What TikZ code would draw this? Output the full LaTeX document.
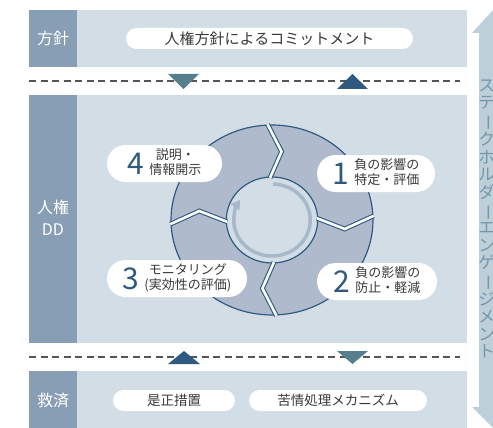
\documentclass[tikz,border=0pt]{standalone}
\usepackage{fontspec}
\setmainfont{Noto Sans CJK JP}
\usepackage{graphicx}
\usetikzlibrary{arrows.meta}
\definecolor{Mist}{HTML}{D3DDE6}
\definecolor{Slate}{HTML}{889EB4}
\definecolor{RingFill}{HTML}{AFBBCD}
\definecolor{Marine}{HTML}{2E5A80}
\definecolor{Teal}{HTML}{557F8D}
\definecolor{Ink}{HTML}{3A3A3A}
\definecolor{Swirl}{HTML}{A8B7C9}
\definecolor{Glacier}{HTML}{BDD0DA}
\definecolor{Steel}{HTML}{7496AB}
\definecolor{DashGray}{HTML}{555555}
\tikzset{
    % panels and side column
    panel/.style={fill=Mist},
    sidebar/.style={fill=Slate},
    sidelabel/.style={
        text=white,
        align=center,
        font=\fontsize{16}{22}\selectfont
    },
    % white pills
    pillbox/.style={
        rectangle,
        fill=white,
        rounded corners=10.5pt,
        minimum height=21pt,
        inner sep=0pt,
        text=Ink,
        font=\fontsize{13.5}{16}\selectfont
    },
    ringpill/.style={
        rectangle,
        fill=white,
        rounded corners=18.5pt,
        minimum height=37pt,
        inner sep=0pt,
        text=Ink,
        font=\fontsize{13}{15}\selectfont
    },
    sepline/.style={
        draw=DashGray,
        line width=1.3pt,
        dash pattern=on 7pt off 4.5pt
    },
    ringline/.style={
        draw=Marine,
        line width=1.2pt
    },
    ringgap/.style={
        draw=Marine,
        line width=1.1pt,
        double=white,
        double distance=2.6pt,
        line join=miter
    },
    swirl/.style={
        draw=Swirl,
        line width=3.5pt,
        -{Triangle[length=9pt,width=10pt]}
    },
    engage/.style={fill=Glacier},
    engagetext/.style={
        text=Steel,
        align=center,
        font=\fontsize{16.5}{17.6}\selectfont
    }
}
\newcommand{\stepnum}[2]{$\vcenter{\hbox{\fontsize{30}{30}\selectfont\color{Marine}#1}}$\hspace{5pt}$\vcenter{\hbox{\begin{tabular}{@{}c@{}}#2\end{tabular}}}$}
\newcommand{\chouon}{\rotatebox[origin=c]{-90}{ー}}
\begin{document}
\begin{tikzpicture}[x=1pt, y=-1pt]
    \useasboundingbox (0,0) rectangle (493,428);
    % panels
    \fill[panel] (29,10) rectangle (467,67);
    \fill[panel] (29,95) rectangle (467,343);
    \fill[panel] (29,371) rectangle (467,428);
    \fill[sidebar] (29,10) rectangle (77,67);
    \fill[sidebar] (29,95) rectangle (77,343);
    \fill[sidebar] (29,371) rectangle (77,428);
    \node[sidelabel] (hoshin) at (53,38.5) {方針};
    \node[sidelabel] (dd) at (53,218) {人権\\DD};
    \node[sidelabel] (kyusai) at (53,400) {救済};
    % separators
    \draw[sepline] (29,81) -- (460,81);
    \draw[sepline] (29,357) -- (460,357);
    \fill[Teal] (168,74) -- (199,74) -- (183.5,89) -- cycle;
    \fill[Marine] (337,89) -- (368,89) -- (352.5,74) -- cycle;
    \fill[Marine] (168,364) -- (200,364) -- (184,351) -- cycle;
    \fill[Teal] (337,351) -- (368,351) -- (352.5,364) -- cycle;
    % pills
    \node[pillbox, minimum width=287pt, font=\fontsize{15}{18}\selectfont] (commit) at (269.5,38.5) {人権方針によるコミットメント};
    \node[pillbox, minimum width=122pt] (zesei) at (174,400.5) {是正措置};
    \node[pillbox, minimum width=178pt] (kujo) at (338,400.5) {苦情処理メカニズム};
    % ring
    \begin{scope}[shift={(272,220)}, xscale=1.063, yscale=-1]
        \fill[RingFill, even odd rule] (0,0) circle (95) (0,0) circle (43);
        \draw[ringline] (0,0) circle (95);
        \draw[ringline, fill=Mist] (0,0) circle (43);
        \foreach \a in {2.5,92.5,182.5,272.5}
            \draw[ringgap] (\a:95.8) -- (\a-10:69) -- (\a:42.2);
        \draw[swirl] (88:36) arc[start angle=88, end angle=-214, radius=36];
    \end{scope}
    % ring labels
    \node[ringpill, minimum width=118pt] (step1) at (376,173.5) {\stepnum{1}{負の影響の\\特定・評価}};
    \node[ringpill, minimum width=120pt] (step2) at (377,281.5) {\stepnum{2}{負の影響の\\防止・軽減}};
    \node[ringpill, minimum width=140pt] (step3) at (177,278.5) {\stepnum{3}{モニタリング\\(実効性の評価)}};
    \node[ringpill, minimum width=115pt] (step4) at (164.5,163.5) {\stepnum{4}{説明・\\情報開示}};
    % stakeholder arrow
    \begin{scope}
        \clip (0,0) rectangle (493,428);
        \fill[engage] (493,10) -- (514,33) -- (507,33) -- (507,407) -- (514,407)
            -- (493,428) -- (472,407) -- (479,407) -- (479,33) -- (472,33) -- cycle;
        \node[engagetext] (engage) at (486.5,219) {ス\\テ\\\chouon\\ク\\ホ\\ル\\ダ\\\chouon\\エ\\ン\\ゲ\\\chouon\\ジ\\メ\\ン\\ト};
    \end{scope}
\end{tikzpicture}
\end{document}
